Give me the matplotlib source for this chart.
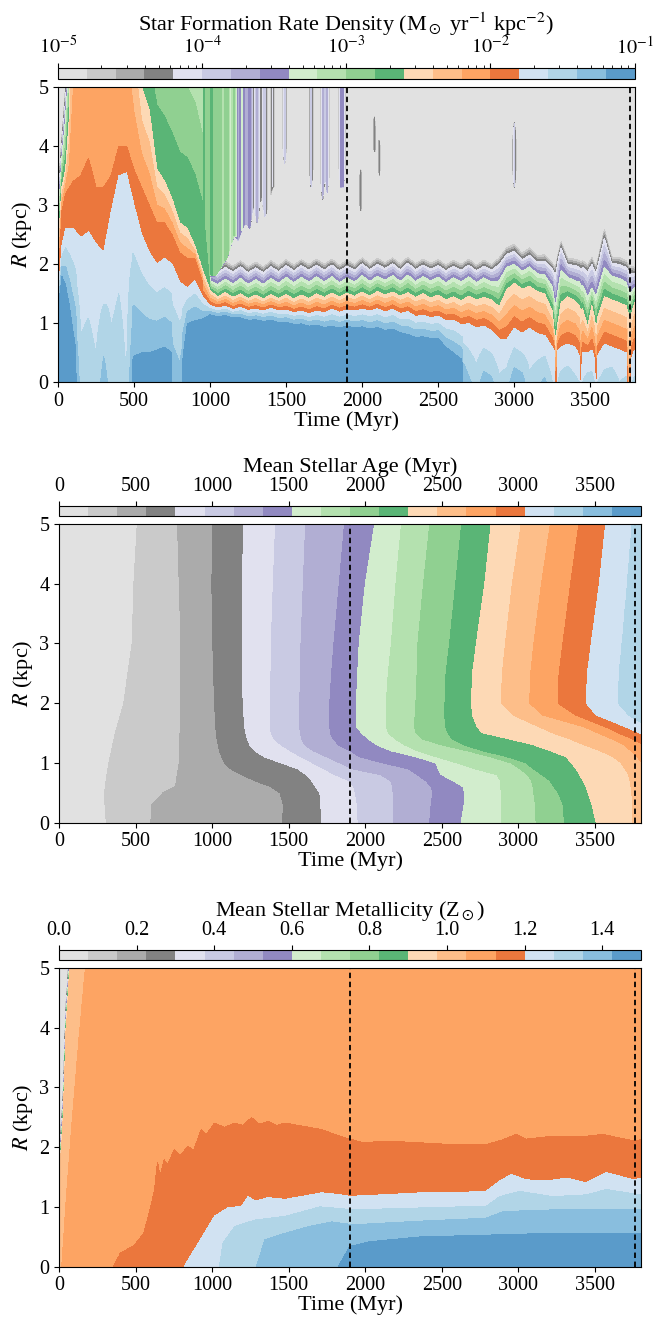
import numpy as np
import matplotlib
matplotlib.use("Agg")
import matplotlib.pyplot as plt
from matplotlib.colors import ListedColormap, LogNorm
from matplotlib.ticker import LogLocator

plt.rcParams['font.family'] = ['Liberation Serif', 'DejaVu Serif']
plt.rcParams['mathtext.fontset'] = 'stix'
plt.rcParams['font.size'] = 14

# ---------------------------------------------------------------------------
# Star formation rate density: for each time node, log10(SFR) at R=0 and the
# radius (kpc) where log10(SFR) falls through -1.2, -1.8, -2.6, -3.4, -4.2, -5.0
# ---------------------------------------------------------------------------
sfr_time = [0, 25, 50, 75, 100, 150, 200, 250, 300, 350, 400,
            450, 500, 550, 600, 650, 700, 750, 800, 850, 900, 950,
            1000, 1050, 1100, 1150, 1200, 1250, 1300, 1350, 1400, 1450,
            1500, 1550, 1600, 1650, 1700, 1750, 1800, 1850, 1900, 1950,
            2000, 2050, 2100, 2150, 2200, 2250, 2300, 2350, 2400, 2450,
            2500, 2550, 2600, 2650, 2700, 2750, 2800, 2850, 2900, 2950,
            3000, 3050, 3100, 3150, 3200, 3250,
            3262, 3274, 3286, 3307, 3350, 3400, 3428, 3438, 3448, 3482, 3510,
            3527, 3537, 3547, 3592, 3640, 3690, 3735, 3746, 3757, 3775, 3790]
sfr_centre = [-1.0, -1.0, -1.0, -1.0, -1.0, -1.5, -1.45, -1.55, -1.3, -1.5, -1.45,
              -1.6, -1.1, -1.05, -1.1, -1.1, -1.1, -1.2, -1.3, -1.0, -1.0, -1.0,
              -1.0, -1.0, -1.0, -1.0, -1.0, -1.0, -1.0, -1.0, -1.0, -1.0,
              -1.0, -1.0, -1.0, -1.0, -1.0, -1.0, -1.0, -1.0, -1.0, -1.0,
              -1.0, -1.0, -1.0, -1.0, -1.0, -1.0, -1.0, -1.0, -1.0, -1.0,
              -1.0, -1.05, -1.1, -1.15, -1.35, -1.5, -1.3, -1.35, -1.55, -1.5,
              -1.25, -1.3, -1.55, -1.45, -1.35, -1.6,
              -1.6, -2.1, -1.6, -1.5, -1.45, -1.55, -1.6, -2.1, -1.6, -1.5, -1.5,
              -1.6, -2.1, -1.6, -1.5, -1.45, -1.6, -1.55, -2.1, -2.1, -1.6, -1.55]
sfr_r12 = [1.2, 1.8, 1.65, 1.3, 0.85, 0.0, 0.0, 0.0, 0.0, 0.0, 0.0,
           0.0, 0.45, 0.5, 0.5, 0.55, 0.6, 0.5, 0.0, 1.0, 1.05, 1.08,
           1.15, 1.12, 1.14, 1.1, 1.1, 1.06, 1.07, 1.04, 1.06, 1.02,
           1.03, 0.99, 1.0, 0.96, 0.98, 0.94, 0.96, 0.93, 0.96, 0.93,
           0.95, 0.91, 0.94, 0.89, 0.91, 0.85, 0.82, 0.77, 0.78, 0.75,
           0.75, 0.6, 0.5, 0.4, 0.0, 0.0, 0.0, 0.0, 0.0, 0.0,
           0.0, 0.0, 0.0, 0.0, 0.0, 0.0,
           0.0, 0.0, 0.0, 0.0, 0.0, 0.0, 0.0, 0.0, 0.0, 0.0, 0.0,
           0.0, 0.0, 0.0, 0.0, 0.0, 0.0, 0.0, 0.0, 0.0, 0.0, 0.0]
sfr_r18 = [1.35, 2.3, 2.6, 2.6, 2.6, 2.45, 2.55, 2.35, 2.2, 2.9, 3.5,
           3.55, 3.0, 2.5, 2.2, 2.0, 2.1, 2.0, 1.7, 1.6, 1.72, 1.45,
           1.30, 1.26, 1.29, 1.23, 1.27, 1.22, 1.24, 1.21, 1.25, 1.21,
           1.22, 1.18, 1.21, 1.16, 1.21, 1.18, 1.24, 1.19, 1.23, 1.21,
           1.24, 1.21, 1.25, 1.19, 1.24, 1.17, 1.20, 1.12, 1.14, 1.10,
           1.12, 1.05, 1.06, 0.98, 1.00, 0.93, 0.96, 0.88, 0.74, 0.73,
           0.92, 0.83, 0.92, 0.83, 0.80, 0.60,
           0.55, 0.3, 0.55, 0.6, 0.65, 0.6, 0.45, 0.2, 0.5, 0.5, 0.55,
           0.4, 0.2, 0.45, 0.65, 0.6, 0.55, 0.5, 0.2, 0.2, 0.45, 0.55]
sfr_r26 = [2.2, 3.3, 3.6, 4.5, 8.0, 9.0, 8.5, 9.0, 8.5, 9.0, 9.5,
           9.0, 6.5, 5.0, 4.6, 3.6, 3.4, 3.1, 2.7, 2.6, 2.3, 1.9,
           1.55, 1.45, 1.52, 1.44, 1.50, 1.42, 1.48, 1.41, 1.49, 1.42,
           1.49, 1.41, 1.48, 1.42, 1.50, 1.44, 1.51, 1.45, 1.51, 1.46,
           1.53, 1.46, 1.54, 1.48, 1.53, 1.46, 1.52, 1.44, 1.50, 1.43,
           1.48, 1.40, 1.45, 1.38, 1.46, 1.40, 1.44, 1.40, 1.28, 1.57,
           1.68, 1.58, 1.63, 1.54, 1.50, 1.20,
           0.85, 0.75, 1.0, 1.35, 1.45, 1.38, 1.3, 1.2, 1.25, 0.95, 1.3,
           1.1, 0.85, 1.1, 1.45, 1.4, 1.35, 1.3, 1.2, 1.1, 1.2, 1.35]
sfr_r34 = [2.7, 3.8, 4.5, 5.5, 9.0, 9.5, 9.0, 9.5, 9.0, 9.5, 10.0,
           9.5, 8.5, 8.0, 8.0, 8.0, 7.8, 7.6, 7.5, 7.4, 7.2, 6.5,
           1.72, 1.66, 1.75, 1.67, 1.76, 1.66, 1.74, 1.66, 1.76, 1.68,
           1.78, 1.69, 1.78, 1.70, 1.79, 1.70, 1.79, 1.69, 1.77, 1.70,
           1.81, 1.71, 1.80, 1.73, 1.81, 1.71, 1.82, 1.71, 1.79, 1.72,
           1.78, 1.69, 1.77, 1.70, 1.79, 1.69, 1.77, 1.70, 1.72, 1.95,
           2.00, 1.88, 1.96, 1.84, 1.82, 1.62,
           1.4, 1.3, 1.55, 1.9, 1.78, 1.72, 1.7, 1.62, 1.65, 1.45, 1.6,
           1.5, 1.45, 1.55, 1.95, 1.8, 1.76, 1.7, 1.6, 1.5, 1.55, 1.6]
sfr_r42 = [3.0, 4.0, 4.8, 5.8, 9.5, 10.0, 9.5, 10.0, 9.5, 10.0, 10.5,
           10.0, 9.0, 8.5, 8.5, 8.5, 8.3, 8.1, 8.0, 7.9, 7.7, 7.0,
           1.92, 1.86, 1.95, 1.87, 1.96, 1.86, 1.94, 1.86, 1.96, 1.88,
           1.98, 1.89, 1.98, 1.90, 1.99, 1.90, 1.99, 1.89, 1.97, 1.90,
           2.01, 1.91, 2.00, 1.93, 2.01, 1.91, 2.02, 1.91, 1.99, 1.92,
           1.98, 1.89, 1.97, 1.90, 1.99, 1.89, 1.97, 1.90, 2.00, 2.17,
           2.22, 2.08, 2.15, 2.04, 2.05, 1.92,
           1.85, 1.85, 2.05, 2.28, 2.0, 1.98, 1.95, 1.92, 1.95, 1.88, 2.0,
           1.9, 1.85, 1.95, 2.45, 2.02, 2.0, 1.95, 1.9, 1.85, 1.85, 1.85]
sfr_r50 = [3.3, 4.2, 5.1, 6.0, 10.0, 10.5, 10.0, 10.5, 10.0, 10.5, 11.0,
           10.5, 9.5, 9.0, 9.0, 9.0, 8.8, 8.6, 8.5, 8.4, 8.2, 7.5,
           2.05, 1.99, 2.08, 2.00, 2.09, 1.99, 2.07, 1.99, 2.09, 2.01,
           2.11, 2.02, 2.11, 2.03, 2.12, 2.03, 2.12, 2.02, 2.10, 2.03,
           2.14, 2.04, 2.13, 2.06, 2.14, 2.04, 2.15, 2.04, 2.12, 2.05,
           2.11, 2.02, 2.10, 2.03, 2.12, 2.02, 2.10, 2.03, 2.14, 2.32,
           2.38, 2.22, 2.32, 2.18, 2.20, 2.05,
           2.0, 2.05, 2.2, 2.42, 2.14, 2.12, 2.1, 2.06, 2.1, 2.03, 2.15,
           2.05, 2.0, 2.1, 2.64, 2.16, 2.15, 2.1, 2.05, 2.0, 2.0, 1.98]
# early burst: radius where log10(SFR) = -2.0 (top of the darkest orange)
sfr_r20_time = [0, 25, 50, 75, 100, 150, 200, 250, 300, 350, 400,
                450, 500, 550, 600, 650, 700, 750, 800, 850, 900, 950]
sfr_r20 = [1.6, 2.9, 3.2, 3.3, 3.4, 3.5, 3.8, 3.3, 3.3, 3.5, 4.0,
           4.0, 3.6, 3.3, 3.0, 2.7, 2.7, 2.5, 2.2, 2.1, 2.1, 1.7]

# faint star formation streaks: time, level, lowest and highest radius
sfr_streak_time = [0, 930, 960, 985, 1010, 1035, 1060, 1085, 1110, 1135,
                   1160, 1185, 1210, 1235, 1260, 1285, 1310, 1335, 1360, 1385,
                   1410, 1435, 1470, 1490, 1510, 1645, 1665, 1685, 1720, 1740,
                   1755, 1770, 1790, 1840, 1860, 1875, 1895, 1970, 1990, 2010,
                   2060, 2080, 2096, 2112, 2130, 2980, 3000, 3020, 3800]
sfr_streak = [-5.5, -5.5, -2.75, -2.95, -2.7, -3.0, -2.8, -3.1, -2.85, -3.3,
              -2.95, -3.7, -3.3, -3.8, -3.5, -4.3, -3.7, -4.4, -3.8, -5.5,
              -4.1, -5.5, -5.5, -3.8, -5.5, -5.5, -3.8, -5.5, -5.5, -3.7,
              -4.2, -3.6, -5.5, -5.5, -3.4, -3.6, -5.5, -5.5, -4.3, -5.5,
              -5.5, -4.3, -5.5, -4.3, -5.5, -5.5, -3.9, -5.5, -5.5]
sfr_streak_r = [6, 6, 2.0, 1.9, 1.8, 1.8, 1.9, 2.0, 2.1, 2.3,
                2.5, 2.4, 2.6, 2.7, 2.6, 3.0, 2.7, 3.2, 2.8, 3.0,
                3.3, 3.3, 4.2, 3.7, 4.2, 3.8, 3.3, 3.8, 3.6, 3.1,
                3.5, 3.2, 3.7, 3.8, 3.3, 3.3, 3.8, 3.25, 2.9, 3.25,
                4.2, 3.9, 4.0, 3.5, 3.8, 3.85, 3.3, 3.85, 6]
sfr_streak_top = [6, 6, 6, 6, 6, 6, 6, 6, 6, 6,
                  6, 6, 6, 6, 6, 6, 6, 6, 6, 6,
                  6, 6, 6, 6, 6, 6, 6, 6, 6, 6,
                  6, 6, 6, 6, 6, 6, 6, 3.25, 3.6, 3.25,
                  4.2, 4.5, 4.0, 4.1, 3.8, 3.85, 4.4, 3.85, 6]

# ---------------------------------------------------------------------------
# Mean stellar age: time (Myr) at which each 190 Myr contour crosses radius R
# ---------------------------------------------------------------------------
age_r = [0.0, 0.3, 0.5, 0.6, 0.7, 0.8, 0.9, 1.0, 1.1, 1.2, 1.3, 1.4, 1.5, 1.6, 1.8, 2.0, 2.5, 3.0, 4.0, 5.0]
age_t01 = [309, 300, 298, 302, 307, 313, 319, 325, 334, 342, 351, 359, 368, 379, 401, 423, 450, 478, 489, 511]
age_t02 = [599, 606, 680, 760, 766, 772, 779, 785, 786, 787, 788, 789, 790, 791, 794, 796, 796, 796, 785, 774]
age_t03 = [1460, 1465, 1443, 1385, 1279, 1191, 1120, 1081, 1062, 1048, 1040, 1032, 1026, 1024, 1020, 1015, 1010, 1004, 998, 1004]
age_t04 = [1713, 1710, 1703, 1675, 1650, 1615, 1560, 1450, 1340, 1280, 1245, 1230, 1220, 1213, 1207, 1202, 1198, 1195, 1195, 1208]
age_t05 = [1953, 1948, 1935, 1925, 1895, 1800, 1730, 1655, 1580, 1512, 1450, 1405, 1385, 1380, 1380, 1382, 1384, 1386, 1399, 1414]
age_t06 = [2181, 2181, 2181, 2178, 2165, 2100, 1910, 1830, 1746, 1660, 1605, 1585, 1575, 1572, 1572, 1572, 1576, 1580, 1595, 1610]
age_t07 = [2420, 2430, 2440, 2430, 2395, 2340, 2280, 2110, 1963, 1900, 1825, 1790, 1772, 1768, 1768, 1768, 1780, 1795, 1830, 1864]
age_t08 = [2626, 2645, 2648, 2637, 2570, 2495, 2475, 2460, 2333, 2170, 2075, 2020, 1975, 1945, 1942, 1942, 1950, 1960, 2000, 2061]
age_t09 = [2887, 2887, 2887, 2885, 2882, 2860, 2715, 2590, 2460, 2340, 2255, 2195, 2150, 2137, 2137, 2137, 2150, 2170, 2200, 2236]
age_t10 = [3115, 3110, 3100, 3095, 3085, 3060, 3010, 2950, 2820, 2670, 2500, 2370, 2330, 2322, 2325, 2330, 2338, 2343, 2380, 2421]
age_t11 = [3300, 3291, 3260, 3230, 3205, 3150, 3095, 3045, 2920, 2760, 2640, 2565, 2540, 2525, 2518, 2520, 2527, 2550, 2590, 2629]
age_t12 = [3507, 3480, 3455, 3440, 3420, 3400, 3375, 3345, 3311, 3210, 3100, 2940, 2765, 2730, 2700, 2693, 2700, 2725, 2780, 2821]
age_t13 = [3746, 3746, 3740, 3735, 3728, 3720, 3695, 3670, 3620, 3535, 3430, 3335, 3225, 3137, 2965, 2887, 2895, 2915, 2960, 3018]
age_t14 = [3950, 3920, 3900, 3885, 3865, 3845, 3825, 3805, 3775, 3735, 3690, 3610, 3520, 3430, 3159, 3073, 3080, 3100, 3150, 3208]
age_t15 = [4000, 3990, 3975, 3965, 3950, 3935, 3920, 3900, 3870, 3845, 3820, 3745, 3652, 3570, 3375, 3258, 3265, 3290, 3340, 3394]
age_t16 = [4100, 4080, 4060, 4045, 4030, 4010, 3990, 3960, 3930, 3900, 3870, 3845, 3790, 3700, 3507, 3443, 3450, 3475, 3528, 3569]
age_t17 = [4200, 4180, 4160, 4145, 4130, 4110, 4090, 4070, 4040, 4010, 3970, 3930, 3880, 3840, 3718, 3650, 3657, 3675, 3710, 3740]

# ---------------------------------------------------------------------------
# Mean stellar metallicity: radius (kpc) of each contour against time (Myr)
# ---------------------------------------------------------------------------
met_z0075_t = [0, 13, 29, 44, 61, 80]
met_z0075_r = [2.2, 2.3, 3.0, 4.3, 5.0, 5.8]
met_z0975_t = [0, 13, 29, 44, 61, 80]
met_z0975_r = [1.8, 1.9, 2.6, 3.9, 4.6, 5.4]
met_z1050_t = [0, 18, 50, 83, 127, 171, 210]
met_z1050_r = [-0.3, 0.0, 1.23, 2.35, 3.74, 5.0, 6.0]
met_z1125_t = [0, 340, 357, 401, 489, 555, 599, 625, 643, 660,
               686, 710, 752, 790, 840, 880, 928, 960, 1015, 1080,
               1147, 1200, 1257, 1310, 1366, 1420, 1476, 1586, 1717, 1833,
               1986, 2138, 2355, 2573, 2790, 2899, 2986, 3050, 3116, 3225,
               3442, 3551, 3660, 3757, 3800]
met_z1125_r = [-1.0, -0.2, 0.0, 0.22, 0.34, 0.56, 1.0, 1.3, 1.75, 1.5,
               1.79, 1.7, 1.96, 1.85, 2.01, 1.95, 2.29, 2.2, 2.4, 2.33,
               2.4, 2.36, 2.49, 2.38, 2.43, 2.36, 2.4, 2.35, 2.29, 2.18,
               2.07, 2.1, 2.07, 2.04, 2.04, 2.12, 2.21, 2.13, 2.15, 2.18,
               2.18, 2.21, 2.15, 2.1, 2.12]
met_z1200_t = [0, 800, 818, 884, 950, 1015, 1103, 1191, 1235, 1279,
               1366, 1476, 1586, 1717, 1833, 1898, 2138, 2355, 2573, 2790,
               2877, 2953, 3051, 3181, 3312, 3442, 3573, 3757, 3800]
met_z1200_r = [-1.0, -0.1, 0.0, 0.28, 0.56, 0.84, 0.98, 1.0, 1.17, 1.09,
               1.15, 1.12, 1.17, 1.23, 1.2, 1.17, 1.2, 1.23, 1.23, 1.26,
               1.43, 1.54, 1.45, 1.43, 1.48, 1.4, 1.57, 1.45, 1.48]
met_z1275_t = [0, 1030, 1048, 1070, 1147, 1279, 1476, 1703, 1920, 2355, 2790, 2877, 3007, 3225, 3442, 3573, 3800]
met_z1275_r = [-1.0, -0.1, 0.0, 0.39, 0.67, 0.78, 0.84, 1.0, 0.95, 0.98, 1.01, 1.17, 1.26, 1.17, 1.2, 1.29, 1.2]
met_z1350_t = [0, 1270, 1289, 1344, 1476, 1629, 1783, 1920, 2355, 2790, 2899, 3225, 3800]
met_z1350_r = [-1.0, -0.1, 0.0, 0.45, 0.56, 0.67, 0.75, 0.7, 0.76, 0.81, 0.92, 0.95, 0.95]
met_z1425_t = [0, 1800, 1823, 1898, 2029, 2355, 2790, 3225, 3800]
met_z1425_r = [-1.0, -0.1, 0.0, 0.34, 0.42, 0.5, 0.53, 0.56, 0.56]

dashed_times = [1900, 3760]

# ---------------------------------------------------------------------------
tt = np.linspace(0, 3800, 1521)
rr = np.linspace(0, 5, 301)

# tab20c reversed, faded as if drawn with alpha 0.8 on white
base = np.array(plt.get_cmap('tab20c').colors)[::-1]
cmap = ListedColormap(0.8 * base + 0.2)

# --- SFR field
log_sfr = np.empty((len(rr), len(tt)))
for i, t in enumerate(tt):
    v0 = np.interp(t, sfr_time, sfr_centre)
    anchors = [(-1.2, np.interp(t, sfr_time, sfr_r12)),
               (-1.8, np.interp(t, sfr_time, sfr_r18))]
    if t <= sfr_r20_time[-1]:
        anchors.append((-2.0, np.interp(t, sfr_r20_time, sfr_r20)))
    anchors += [(-2.6, np.interp(t, sfr_time, sfr_r26)),
                (-3.4, np.interp(t, sfr_time, sfr_r34)),
                (-4.2, np.interp(t, sfr_time, sfr_r42)),
                (-5.0, np.interp(t, sfr_time, sfr_r50))]
    pr, pv = [0.0], [v0]
    for lev, rad in anchors:
        if lev < v0:
            pr.append(max(rad, pr[-1] + 1e-3))
            pv.append(lev)
    pr.append(pr[-1] + 1.0)
    pv.append(pv[-1] - 1.0)
    col = np.interp(rr, pr, pv)
    fv = np.interp(t, sfr_streak_time, sfr_streak)
    f_lo = np.interp(t, sfr_streak_time, sfr_streak_r)
    f_hi = np.interp(t, sfr_streak_time, sfr_streak_top)
    inside = (rr > f_lo) & (rr < f_hi)
    log_sfr[:, i] = np.where(inside, np.maximum(col, fv), col)
sfr = 10 ** np.clip(log_sfr, -4.999, -1.001)

# --- age field
age_bounds = [age_t01, age_t02, age_t03, age_t04, age_t05, age_t06, age_t07, age_t08, age_t09,
              age_t10, age_t11, age_t12, age_t13, age_t14, age_t15, age_t16, age_t17]
age_vals = 190.0 * np.arange(1, len(age_bounds) + 1)
age = np.empty((len(rr), len(tt)))
for j, r in enumerate(rr):
    tb = np.array([np.interp(r, age_r, b) for b in age_bounds], dtype=float)
    tb = np.maximum.accumulate(tb) + np.arange(len(tb)) * 1e-3
    xp = np.concatenate([[-1.0], tb, [1e5]])
    fp = np.concatenate([[0.0], age_vals, [3800.0]])
    age[j] = np.interp(tt, xp, fp)
age = np.clip(age, 1, 3799)

# --- metallicity field
met_curves = [(met_z1425_t, met_z1425_r, 1.425), (met_z1350_t, met_z1350_r, 1.35),
              (met_z1275_t, met_z1275_r, 1.275), (met_z1200_t, met_z1200_r, 1.2),
              (met_z1125_t, met_z1125_r, 1.125), (met_z1050_t, met_z1050_r, 1.05),
              (met_z0975_t, met_z0975_r, 0.975), (met_z0075_t, met_z0075_r, 0.075)]
met = np.empty((len(rr), len(tt)))
for i, t in enumerate(tt):
    rs = [np.interp(t, ct, cr) for ct, cr, _ in met_curves]
    zs = [z for _, _, z in met_curves]
    rs = np.array([rs[0] - 2.0] + rs + [rs[-1] + 2.0])
    zs = [1.5] + zs + [0.0]
    rs = np.maximum.accumulate(rs) + np.arange(len(rs)) * 1e-4
    met[:, i] = np.interp(rr, rs, zs)
met = np.clip(met, 1e-4, 1.4999)

# ---------------------------------------------------------------------------
W, H = 655, 1322
fig = plt.figure(figsize=(W / 100, H / 100), dpi=100)


def box(left, top, right, bottom):
    return fig.add_axes([left / W, 1 - bottom / H, (right - left) / W, (bottom - top) / H])


panels = [
    dict(z=sfr, levels=np.logspace(-5, -1, 21), norm=LogNorm(1e-5, 1e-1), xmax=3790,
         ax=(58, 87, 634.5, 382.5), cax=(58, 68, 634.5, 79),
         title=r'Star Formation Rate Density (M$_\odot$ yr$^{-1}$ kpc$^{-2}$)',
         ticks=[1e-5, 1e-4, 1e-3, 1e-2, 1e-1],
         labels=[r'$10^{-5}$', r'$10^{-4}$', r'$10^{-3}$', r'$10^{-2}$', r'$10^{-1}$']),
    dict(z=age, levels=np.linspace(0, 3800, 21), norm=None, xmax=3800,
         ax=(59, 524, 641, 822.5), cax=(59, 506, 641, 516),
         title='Mean Stellar Age (Myr)',
         ticks=[0, 500, 1000, 1500, 2000, 2500, 3000, 3500],
         labels=['0', '500', '1000', '1500', '2000', '2500', '3000', '3500']),
    dict(z=met, levels=np.linspace(0, 1.5, 21), norm=None, xmax=3800,
         ax=(59, 968, 641, 1266.5), cax=(59, 950, 641, 960),
         title=r'Mean Stellar Metallicity (Z$_\odot$)',
         ticks=[0.0, 0.2, 0.4, 0.6, 0.8, 1.0, 1.2, 1.4],
         labels=['0.0', '0.2', '0.4', '0.6', '0.8', '1.0', '1.2', '1.4']),
]

for p in panels:
    ax = box(*p['ax'])
    cax = box(*p['cax'])
    cs = ax.contourf(tt, rr, p['z'], levels=p['levels'], norm=p['norm'], cmap=cmap)
    for tx in dashed_times:
        ax.axvline(tx, color='k', ls=(0, (3, 2)), lw=1.3)
    ax.set_xlim(0, p['xmax'])
    ax.set_ylim(0, 5)
    ax.set_xticks([0, 500, 1000, 1500, 2000, 2500, 3000, 3500])
    ax.set_yticks([0, 1, 2, 3, 4, 5])
    ax.tick_params(labelsize=14.5)
    ax.set_xlabel('Time (Myr)', fontsize=16, labelpad=0)
    ax.set_ylabel(r'$R$ (kpc)', fontsize=16, labelpad=3)

    cb = fig.colorbar(cs, cax=cax, orientation='horizontal')
    cax.xaxis.set_ticks_position('top')
    cax.xaxis.set_label_position('top')
    cb.set_ticks(p['ticks'])
    cb.set_ticklabels(p['labels'])
    if p['norm'] is not None:
        cax.xaxis.set_minor_locator(LogLocator(base=10, subs=np.arange(2, 10)))
    cax.tick_params(labelsize=14.5)
    cb.set_label(p['title'], fontsize=16, labelpad=4)

fig.savefig('out.png', dpi=100)
